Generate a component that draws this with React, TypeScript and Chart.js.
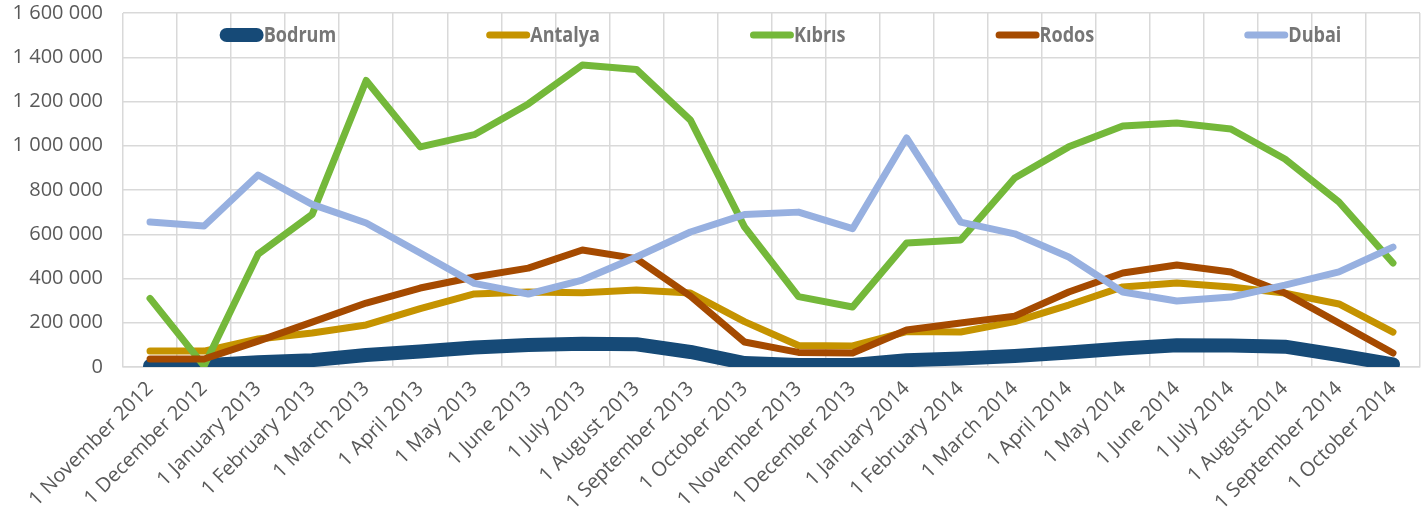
import React, { useEffect, useRef } from "react";
import { Chart, registerables } from "chart.js";

Chart.register(...registerables);

const labels = [
  "1 November 2012", "1 December 2012", "1 January 2013", "1 February 2013",
  "1 March 2013", "1 April 2013", "1 May 2013", "1 June 2013", "1 July 2013",
  "1 August 2013", "1 September 2013", "1 October 2013", "1 November 2013",
  "1 December 2013", "1 January 2014", "1 February 2014", "1 March 2014",
  "1 April 2014", "1 May 2014", "1 June 2014", "1 July 2014", "1 August 2014",
  "1 September 2014", "1 October 2014",
];

const bodrum = [5000, 8000, 22000, 31000, 54000, 70000, 88000, 99000, 105000, 103000, 68000, 18000, 9000, 9000, 31000, 38000, 50000, 66000, 84000, 98000, 97000, 92000, 54000, 12000];
const antalya = [72000, 72000, 127000, 154000, 190000, 264000, 330000, 339000, 336000, 348000, 334000, 205000, 97000, 95000, 160000, 158000, 205000, 280000, 362000, 380000, 362000, 334000, 285000, 158000];
const kibris = [310000, 5000, 510000, 690000, 1295000, 995000, 1050000, 1189000, 1365000, 1345000, 1116000, 633000, 318000, 271000, 560000, 574000, 854000, 995000, 1089000, 1103000, 1076000, 940000, 746000, 470000];
const rodos = [36000, 36000, 117000, 203000, 289000, 357000, 407000, 447000, 529000, 490000, 320000, 113000, 66000, 63000, 167000, 199000, 230000, 339000, 425000, 461000, 429000, 334000, 199000, 63000];
const dubai = [655000, 637000, 868000, 735000, 651000, 515000, 378000, 330000, 393000, 497000, 610000, 689000, 700000, 625000, 1035000, 655000, 602000, 497000, 339000, 298000, 316000, 370000, 430000, 542000];

const yTicks = [0, 200000, 400000, 600000, 800000, 1000000, 1200000, 1400000, 1600000];

const fmt = (v: number) => String(Math.round(v)).replace(/\B(?=(\d{3})+(?!\d))/g, " ");

const legendPlugin = {
  id: "customLegend",
  afterDraw(chart: any) {
    const ctx = chart.ctx;
    const ds = chart.data.datasets;
    const area = chart.chartArea;
    const sampleLen = 44;
    const gap = 150;
    const sx = 0.86;
    ctx.save();
    ctx.font = 'bold 21px "Open Sans"';
    const widths = ds.map((d: any) => sampleLen + ctx.measureText(d.label).width * sx);
    const total = widths.reduce((a: number, b: number) => a + b, 0) + gap * (ds.length - 1);
    let x = (area.left + area.right) / 2 + 9 - total / 2;
    const y = 35;
    ds.forEach((d: any, i: number) => {
      const lw = d.borderWidth;
      ctx.strokeStyle = d.borderColor;
      ctx.lineWidth = lw;
      ctx.lineCap = "round";
      ctx.beginPath();
      ctx.moveTo(x + lw / 2, y);
      ctx.lineTo(x + sampleLen - lw / 2, y);
      ctx.stroke();
      ctx.save();
      ctx.translate(x + sampleLen, y);
      ctx.scale(sx, 1);
      ctx.fillStyle = "#767676";
      ctx.textAlign = "left";
      ctx.textBaseline = "middle";
      ctx.fillText(d.label, 0, 1);
      ctx.restore();
      x += widths[i] + gap;
    });
    ctx.restore();
  },
};

export default function App() {
  const ref = useRef<HTMLCanvasElement>(null);
  useEffect(() => {
    if (!ref.current) return;
    const mk = (label: string, data: number[], color: string, w: number, order: number) => ({
      label,
      data,
      borderColor: color,
      backgroundColor: color,
      borderWidth: w,
      pointRadius: 0,
      borderCapStyle: "round" as const,
      borderJoinStyle: "round" as const,
      tension: 0,
      order,
    });
    const chart = new Chart(ref.current, {
      type: "line",
      data: {
        labels,
        datasets: [
          mk("Bodrum", bodrum, "#164A77", 14, 5),
          mk("Antalya", antalya, "#C59300", 7, 4),
          mk("Kıbrıs", kibris, "#74B83A", 7, 3),
          mk("Rodos", rodos, "#A54A00", 7, 2),
          mk("Dubai", dubai, "#97B0E0", 7, 1),
        ],
      },
      options: {
        animation: false,
        responsive: false,
        layout: { padding: { top: 13, right: 4, left: 0, bottom: 0 } },
        plugins: { legend: { display: false }, tooltip: { enabled: false } },
        scales: {
          x: {
            offset: true,
            grid: { offset: true, color: "#d9d9d9", lineWidth: 1.5, drawTicks: false },
            border: { color: "#d9d9d9", width: 1.5 },
            ticks: {
              autoSkip: false,
              minRotation: 45,
              maxRotation: 45,
              padding: 10,
              color: "#595959",
              font: { family: "Open Sans", size: 20 },
            },
            afterFit: (s: any) => {
              s.height = 155;
              s.paddingLeft = 0;
              s.paddingRight = 0;
            },
          },
          y: {
            min: 0,
            max: 1600000,
            afterBuildTicks: (s: any) => { s.ticks = yTicks.map((v) => ({ value: v })); },
            grid: { color: "#d9d9d9", lineWidth: 1.5, drawTicks: false },
            border: { display: false },
            ticks: {
              padding: 20,
              color: "#595959",
              font: { family: "Open Sans", size: 20 },
              callback: (v: any) => fmt(Number(v)),
            },
            afterFit: (s: any) => {
              s.width = 123;
              s.paddingTop = 0;
              s.paddingBottom = 0;
            },
          },
        },
      },
      plugins: [legendPlugin],
    });
    return () => chart.destroy();
  }, []);
  return (
    <div style={{ position: "absolute", left: 0, top: 0, width: 1424, height: 522, background: "#fff" }}>
      <canvas ref={ref} width={1424} height={522} />
    </div>
  );
}
